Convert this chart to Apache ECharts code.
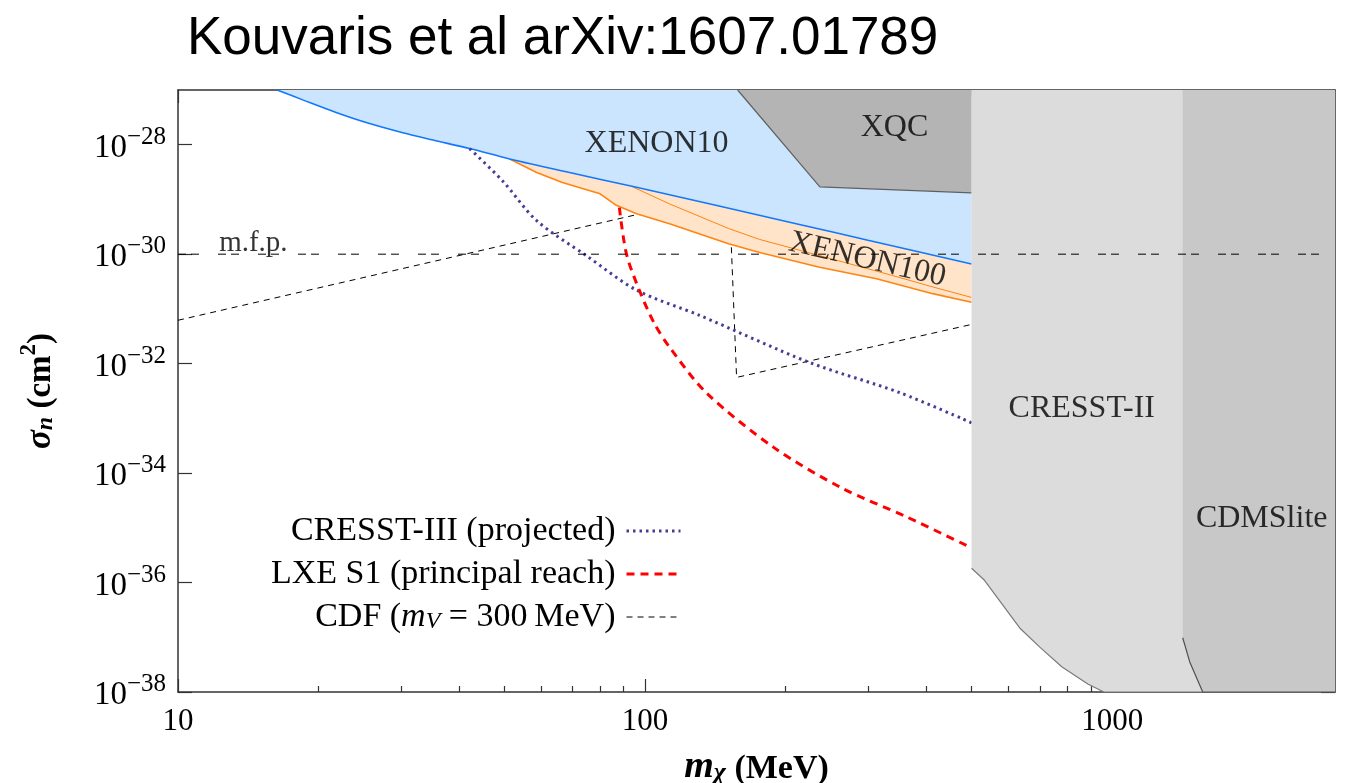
<!DOCTYPE html>
<html>
<head>
<meta charset="utf-8">
<script src="https://cdn.jsdelivr.net/npm/echarts@6/dist/echarts.min.js"></script>
<style>
  html, body { margin: 0; padding: 0; background: #fff; }
  #chart { width: 1353px; height: 783px; }
</style>
</head>
<body>
<div id="chart"></div>
<script>
// Dark-matter mass m_chi in MeV, nucleon cross section sigma_n in cm^2.

const xMajorTicks = [10, 100, 1000];
const xMinorTicks = [20, 30, 40, 50, 60, 70, 80, 90, 200, 300, 400, 500, 600, 700, 800, 900, 2000];
const yMajorTicks = [1e-38, 1e-36, 1e-34, 1e-32, 1e-30, 1e-28];

// XENON10 exclusion boundary (excluded above)
const xenon10Mass  = [16.3, 18.5, 21.8, 25.5, 30.3, 35, 42.1, 51.3, 68.9, 94.8, 214, 300, 500];
const xenon10Sigma = [1e-27, 6.6e-28, 3.9e-28, 2.5e-28, 1.66e-28, 1.23e-28, 8.5e-29, 5.5e-29, 3.1e-29, 1.7e-29, 3.5e-30, 1.8e-30, 6.6e-31];

// XENON100 exclusion boundary (excluded above) and its second contour
const xenon100Mass  = [51.3, 58.6, 66.5, 79.8, 86.8, 95.9, 112.8, 150.9, 175.9, 236.4, 313, 413, 500];
const xenon100Sigma = [5.5e-29, 3.1e-29, 2.04e-29, 1.29e-29, 7.8e-30, 5.5e-30, 3.6e-30, 1.55e-30, 1.07e-30, 5.75e-31, 3.55e-31, 1.9e-31, 1.32e-31];
const xenon100InnerMass  = [94.0, 112.8, 150.9, 175.9, 244.6, 339, 401, 500];
const xenon100InnerSigma = [1.7e-29, 8.3e-30, 2.95e-30, 1.86e-30, 8.7e-31, 4.07e-31, 2.7e-31, 1.62e-31];

// XQC
const xqcMass  = [157.8, 236.7, 500];
const xqcSigma = [1e-27, 1.7e-29, 1.32e-29];

// CRESST-II
const cresst2Mass  = [500, 533, 634, 700, 780, 887, 960, 3000];
const cresst2Sigma = [1.82e-36, 1.1e-36, 1.48e-37, 6.6e-38, 2.9e-38, 1.4e-38, 1e-38, 1e-38];

// CDMSlite
const cdmsMass  = [1416, 1466, 1563, 3000];
const cdmsSigma = [9.8e-38, 3.55e-38, 1e-38, 1e-38];

// CRESST-III projected sensitivity
const cresst3Mass  = [42.1, 49.5, 58.6, 75.0, 95.9, 130.9, 225, 351, 500];
const cresst3Sigma = [8.5e-29, 2.2e-29, 4.1e-30, 9.3e-31, 2.2e-31, 7.6e-32, 1.05e-32, 2.95e-33, 8.3e-34];

// LXE S1 principal reach
const lxeMass  = [88.1, 91.2, 97.2, 104.7, 112.8, 135.4, 188.5, 262, 365, 500];
const lxeSigma = [7.1e-30, 1.02e-30, 2.2e-31, 5.4e-32, 2.0e-32, 2.9e-33, 2.95e-34, 5.5e-35, 1.55e-35, 4.3e-36];

// CDF bound for a 300 MeV mediator
const cdfMass  = [10, 95.2, 140, 152.4, 157.0, 500];
const cdfSigma = [6.2e-32, 5.2e-30, 7.1e-30, 3.2e-30, 5.6e-33, 5.2e-32];

// mean-free-path line
const mfpMass  = [10, 3000];
const mfpSigma = [1e-30, 1e-30];

const lg = Math.log10;
const pts = (ms, ss) => ms.map((m, i) => [lg(m), lg(ss[i])]);

const SERIF = "'Liberation Serif', 'DejaVu Serif', serif";
const FRAME = '#333';

const xMin = lg(10), xMax = lg(3000);
const yMin = -38, yMax = -27;

function xAxisDef(position, values, len, withLabels) {
  return {
    type: 'value', min: xMin, max: xMax, interval: 1, position: position,
    axisLine: { show: len > 8, onZero: false, lineStyle: { color: FRAME, width: 1.5 } },
    axisTick: { show: true, inside: true, length: len, customValues: values.map(lg),
                lineStyle: { color: FRAME, width: 1.2 } },
    axisLabel: withLabels ? {
      show: true, customValues: values.map(lg), margin: 14,
      fontFamily: SERIF, fontSize: 31, color: '#000',
      formatter: v => String(Math.round(Math.pow(10, v)))
    } : { show: false },
    splitLine: { show: false }
  };
}

const yAxes = [
  {
    type: 'value', min: yMin, max: yMax, interval: 1, position: 'left',
    axisLine: { show: true, onZero: false, lineStyle: { color: FRAME, width: 1.5 } },
    axisTick: { show: true, inside: true, length: 14, customValues: yMajorTicks.map(lg),
                lineStyle: { color: FRAME, width: 1.2 } },
    axisLabel: {
      show: true, customValues: yMajorTicks.map(lg), margin: 12,
      formatter: v => '{b|10}{s|\u2212' + Math.abs(Math.round(v)) + '}',
      rich: {
        b: { fontFamily: SERIF, fontSize: 33, color: '#000', lineHeight: 40, verticalAlign: 'bottom' },
        s: { fontFamily: SERIF, fontSize: 25, color: '#000', lineHeight: 24, verticalAlign: 'top' }
      }
    },
    splitLine: { show: false },
    name: '{s|\u03c3}{n|n}{u| (cm}{p|2}{u|)}',
    nameLocation: 'middle', nameRotate: 90, nameGap: 120,
    nameTextStyle: {
      rich: {
        s: { fontFamily: SERIF, fontSize: 35, fontWeight: 'bold', fontStyle: 'italic', color: '#000', lineHeight: 40, verticalAlign: 'bottom' },
        n: { fontFamily: SERIF, fontSize: 24, fontStyle: 'italic', fontWeight: 'bold', color: '#000', lineHeight: 30, verticalAlign: 'bottom' },
        u: { fontFamily: SERIF, fontSize: 33, fontWeight: 'bold', color: '#000', lineHeight: 40, verticalAlign: 'bottom' },
        p: { fontFamily: SERIF, fontSize: 23, fontWeight: 'bold', color: '#000', lineHeight: 22, verticalAlign: 'top' }
      }
    }
  },
  {
    type: 'value', min: yMin, max: yMax, interval: 1, position: 'right',
    axisLine: { show: true, onZero: false, lineStyle: { color: FRAME, width: 1.5 } },
    axisTick: { show: true, inside: true, length: 14, customValues: yMajorTicks.map(lg),
                lineStyle: { color: FRAME, width: 1.2 } },
    axisLabel: { show: false },
    splitLine: { show: false }
  }
];

const xAxes = [
  Object.assign(xAxisDef('bottom', xMajorTicks, 13, true), {
    name: '{m|m}{c|\u03c7}{u| (MeV)}',
    nameLocation: 'middle', nameGap: 54,
    nameTextStyle: {
      rich: {
        m: { fontFamily: SERIF, fontSize: 38, fontWeight: 'bold', fontStyle: 'italic', color: '#000', lineHeight: 40, verticalAlign: 'bottom' },
        c: { fontFamily: SERIF, fontSize: 26, fontWeight: 'bold', fontStyle: 'italic', color: '#000', lineHeight: 30, verticalAlign: 'bottom' },
        u: { fontFamily: SERIF, fontSize: 34, fontWeight: 'bold', color: '#000', lineHeight: 40, verticalAlign: 'bottom' }
      }
    }
  }),
  xAxisDef('bottom', xMinorTicks, 6, false),
  xAxisDef('top', xMajorTicks, 13, false),
  xAxisDef('top', xMinorTicks, 6, false)
];

function region(name, data, fill, stroke, strokeWidth, z, smooth) {
  return {
    name: name, type: 'line', data: data, z: z,
    symbol: 'none', showSymbol: false, silent: true, smooth: smooth || false,
    lineStyle: { color: stroke, width: strokeWidth },
    areaStyle: { origin: 'end', color: fill, opacity: 1 }
  };
}

function curve(name, data, color, width, type, smooth, z) {
  return {
    name: name, type: 'line', data: data, z: z,
    symbol: 'none', showSymbol: false, silent: true,
    smooth: smooth,
    lineStyle: { color: color, width: width, type: type }
  };
}

const regionLabels = [
  { name: 'XENON10',  value: [lg(105.8), lg(1.05e-28)] },
  { name: 'XQC',      value: [lg(342), lg(2.04e-28)] },
  { name: 'XENON100', value: [lg(299), lg(7.9e-31)], label: { rotate: -13 } },
  { name: 'CRESST-II', value: [lg(861), lg(1.5e-33)] },
  { name: 'CDMSlite', value: [lg(2090), lg(1.45e-35)] },
  { name: 'm.f.p.',   value: [lg(14.5), lg(1.55e-30)], label: { fontSize: 29 } }
];

const LEG_CRESST3 = 'CRESST-III (projected)';
const LEG_LXE = 'LXE S1 (principal reach)';
const LEG_CDF = 'CDF (mV = 300 MeV)';

const option = {
  animation: false,
  backgroundColor: '#fff',
  title: {
    text: 'Kouvaris et al arXiv:1607.01789',
    left: 187, top: 13, padding: 0,
    textStyle: { fontFamily: "'Liberation Sans', Arial, sans-serif", fontSize: 53, fontWeight: 'normal', color: '#000' }
  },
  grid: { left: 178, top: 90, width: 1157, height: 602, containLabel: false, outerBoundsMode: 'none' },
  xAxis: xAxes,
  yAxis: yAxes,
  legend: {
    orient: 'vertical', align: 'right', right: 671, top: 514, padding: 0,
    itemWidth: 54, itemHeight: 14, itemGap: 9, selectedMode: false,
    textStyle: {
      fontFamily: SERIF, fontSize: 34, color: '#000', lineHeight: 34,
      rich: {
        n: { fontFamily: SERIF, fontSize: 34, color: '#000', lineHeight: 34 },
        e: { fontFamily: SERIF, fontSize: 34, color: '#000', lineHeight: 34, padding: [0, 6, 0, 0] },
        i: { fontFamily: SERIF, fontSize: 34, fontStyle: 'italic', color: '#000', lineHeight: 34 },
        v: { fontFamily: SERIF, fontSize: 24, fontStyle: 'italic', color: '#000', lineHeight: 24, verticalAlign: 'bottom' }
      }
    },
    formatter: name => name === LEG_CDF
      ? '{n|CDF (}{i|m}{v|V}{e| = 300\u2009MeV)}'
      : '{e|' + name + '}',
    data: [
      { name: LEG_CRESST3, itemStyle: { opacity: 0 }, lineStyle: { color: '#463c94', width: 3, type: [2.5, 4] } },
      { name: LEG_LXE, itemStyle: { opacity: 0 }, lineStyle: { color: '#ff0000', width: 3, type: [8, 6] } },
      { name: LEG_CDF, itemStyle: { opacity: 0 }, lineStyle: { color: '#000', width: 1, type: [6, 5] } }
    ]
  },
  series: [
    curve(LEG_CDF, pts(cdfMass, cdfSigma), '#000', 1, [6, 5], false, 1),
    region('XENON100', pts(xenon100Mass, xenon100Sigma), '#ffe4c9', '#ff8412', 1.6, 2),
    curve('XENON100 contour', pts(xenon100InnerMass, xenon100InnerSigma), '#ff8412', 1, 'solid', false, 2),
    region('XENON10', pts(xenon10Mass, xenon10Sigma), '#cce5fe', '#1177ff', 1.6, 3, 0.3),
    region('XQC', pts(xqcMass, xqcSigma), '#b4b4b4', '#606060', 1.2, 4),
    curve(LEG_CRESST3, pts(cresst3Mass, cresst3Sigma), '#463c94', 3, [2.5, 4], 0.3, 5),
    curve(LEG_LXE, pts(lxeMass, lxeSigma), '#ff0000', 3, [8, 6], 0.3, 5),
    region('CRESST-II', pts(cresst2Mass, cresst2Sigma), '#dcdcdc', '#7a7a7a', 1.2, 6),
    region('CDMSlite', pts(cdmsMass, cdmsSigma), '#c8c8c8', '#505050', 1.2, 7),
    curve('m.f.p.', pts(mfpMass, mfpSigma), '#000', 1, [8, 5, 8, 19], false, 8),
    {
      name: 'labels', type: 'scatter', z: 9, silent: true,
      symbolSize: 0, data: regionLabels,
      label: { show: true, position: 'inside', formatter: '{b}', fontFamily: SERIF, fontSize: 32, color: '#000' }
    }
  ]
};

const chart = echarts.init(document.getElementById('chart'), null, { renderer: 'canvas' });
chart.setOption(option);
</script>
</body>
</html>
